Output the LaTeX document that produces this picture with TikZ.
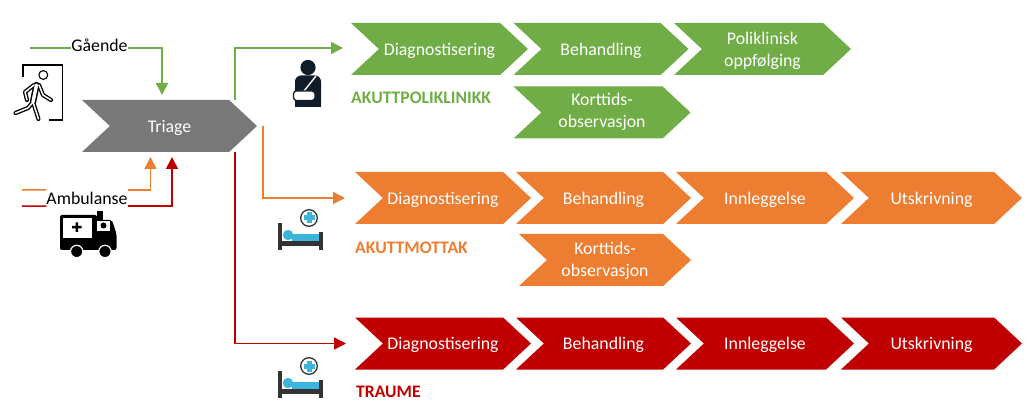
\documentclass[tikz,border=0pt]{standalone}
\usepackage{fontspec}
\setmainfont{Carlito}
\usetikzlibrary{shapes.symbols,arrows.meta,positioning}
\definecolor{akgreen}{HTML}{70AD47}
\definecolor{akorange}{HTML}{ED7D31}
\definecolor{akred}{HTML}{C00000}
\definecolor{akgray}{HTML}{787878}
\definecolor{akblue}{HTML}{3CB4DC}
\definecolor{akdark}{HTML}{333333}
\definecolor{aknavy}{HTML}{101C28}

\tikzset{
  chev/.style={signal,signal to=east,signal from=west,signal pointer angle=86,inner sep=0pt,outer sep=0pt,
    minimum height=52pt,minimum width=177pt,align=center,text=white,text depth=0pt,font=\fontsize{17.8}{22}\selectfont},
  ward/.style={anchor=west,inner sep=0pt,font=\fontsize{17.6}{20}\selectfont\bfseries},
  entry/.style={fill=white,inner sep=0pt,font=\fontsize{17.8}{20}\selectfont},
  flow/.style={line width=1.5pt,-{Triangle[length=12pt,width=12pt]}},
  bed/.pic={
    \fill[akblue] (14,11) rectangle (41,18);
    \fill[akblue] (10,12) circle (5.2);
    \fill[akdark] (0,0) rectangle (4,27);
    \fill[akdark] (41,9) rectangle (45,27);
    \fill[akdark] (4,18) rectangle (41,23);
    \draw[akdark,line width=1.3pt,fill=white] (31,-5) circle (8.3);
    \fill[akblue] (28.5,-10.5) rectangle (33.5,0.5);
    \fill[akblue] (25.5,-7.5) rectangle (36.5,-2.5);
  },
  limb/.style={black,line width=4.2pt,line cap=round,line join=round},
  limbcore/.style={white,line width=1.5pt,line cap=round,line join=round},
}

\begin{document}
\begin{tikzpicture}[x=1pt,y=-1pt]
  \useasboundingbox (0,0) rectangle (1032,411);

  \node[chev,fill=akgray,minimum width=175pt] (triage) at (169.5,126) {Triage};

  % akuttpoliklinikk
  \node[chev,fill=akgreen] (gdiag) at (439.5,49) {Diagnostisering};
  \node[chev,fill=akgreen,minimum width=175pt] (gbeh) at (601,49) {Behandling};
  \node[chev,fill=akgreen] (gpol) at (762.5,49) {Poliklinisk\\oppfølging};
  \node[chev,fill=akgreen,text depth=3.5pt] (gobs) at (602,112.5) {Korttids-\\observasjon};
  \node[ward,text=akgreen] (glabel) at (351,98) {AKUTTPOLIKLINIKK};

  % akuttmottak
  \node[chev,fill=akorange,minimum width=176pt] (odiag) at (443,198) {Diagnostisering};
  \node[chev,fill=akorange,minimum width=175pt] (obeh) at (603.5,198) {Behandling};
  \node[chev,fill=akorange,minimum width=178pt] (oinn) at (765,198) {Innleggelse};
  \node[chev,fill=akorange,minimum width=181pt] (outs) at (931.5,198) {Utskrivning};
  \node[chev,fill=akorange,minimum width=172pt,text depth=2pt] (oobs) at (605,260) {Korttids-\\observasjon};
  \node[ward,text=akorange] (olabel) at (355,248) {AKUTTMOTTAK};

  % traume
  \node[chev,fill=akred,minimum width=176pt] (rdiag) at (443,343.5) {Diagnostisering};
  \node[chev,fill=akred,minimum width=175pt] (rbeh) at (603.5,343.5) {Behandling};
  \node[chev,fill=akred,minimum width=178pt] (rinn) at (765,343.5) {Innleggelse};
  \node[chev,fill=akred,minimum width=181pt] (ruts) at (931.5,343.5) {Utskrivning};
  \node[ward,text=akred] (rlabel) at (356,392) {TRAUME};

  % inn til triage
  \node[entry,text depth=6pt] (gaaende) at (99.5,48) {Gående};
  \node[entry,minimum width=80pt,minimum height=16pt] (ambulanse) at (87,198) {Ambulanse};
  \coordinate (gstart) at (30,48);
  \coordinate (gend) at (162,95);
  \coordinate (ostart) at (22,190);
  \coordinate (rstart) at (22,206);
  \coordinate (oend) at (150.5,157);
  \coordinate (rend) at (172,157);

  \draw[akgreen,line width=1.5pt] (gstart) -- (gaaende);
  \draw[flow,akgreen] (gaaende) -| (gend);
  \draw[akorange,line width=1.5pt] (ostart) -- (ambulanse.north west);
  \draw[akred,line width=1.5pt] (rstart) -- (ambulanse.south west);
  \draw[flow,akorange] (ambulanse.north east) -| (oend);
  \draw[flow,akred] (ambulanse.south east) -| (rend);

  % ut fra triage
  \coordinate (gto) at (343,48);
  \coordinate (oto) at (345,198);
  \coordinate (rto) at (346,343.5);
  \draw[flow,akgreen] ([xshift=65.5pt]triage.north) |- (gto);
  \draw[flow,akorange] ([xshift=6pt]triage.east) |- (oto);
  \draw[flow,akred] ([xshift=65.5pt]triage.south) |- (rto);

  % dør og gående
  \draw[black,line width=1.2pt] (23,77) -- (23,65) -- (62.5,65) -- (62.5,120) -- (48.5,120);
  \draw[black,line width=1.1pt] (43.3,75) circle (4.4);
  \draw[limb] (34,85) -- (25,92) -- (27,100);
  \draw[limb] (39,85) -- (43,95) -- (51,100);
  \draw[limb,line width=6.4pt] (36.5,85) -- (33,102);
  \draw[limb] (33,102) -- (28,108) -- (15.5,113);
  \draw[limb] (33,102) -- (38.5,119);
  \draw[limbcore] (34,85) -- (25,92) -- (27,100);
  \draw[limbcore] (39,85) -- (43,95) -- (51,100);
  \draw[limbcore,line width=3.4pt] (36.5,85) -- (33,102);
  \draw[limbcore] (33,102) -- (28,108) -- (15.5,113);
  \draw[limbcore] (33,102) -- (38.5,119);

  % pasient med fatle
  \fill[aknavy] (308,67.5) circle (7.6);
  \fill[aknavy,rounded corners=6pt] (295,75.5) rectangle (321,112);
  \fill[white] (290,107) rectangle (326,114);
  \draw[white,line width=1.4pt] (316,76) -- (304,91);
  \draw[aknavy,line width=1.3pt,fill=white,rounded corners=3pt] (293.5,91) rectangle (315,100.5);

  % ambulanse
  \fill[black,rounded corners=2pt] (60,215) rectangle (97,247);
  \fill[black,rounded corners=2pt] (95,220) -- (112,220) -- (116.5,234) -- (116.5,250) -- (60,250) -- (60,240) -- (95,240) -- cycle;
  \fill[black] (96.5,211) rectangle (102.5,220);
  \fill[white] (63,218) rectangle (92,238);
  \fill[black] (75.5,222.5) rectangle (78,232) (72,226) rectangle (81.5,228.5);
  \fill[white] (96.5,221) rectangle (110,231);
  \fill[black] (103.5,225.5) circle (3);
  \draw[white,line width=1.2pt,fill=black] (76.7,251.5) circle (6.2);
  \draw[white,line width=1.2pt,fill=black] (105,251.5) circle (6.2);

  % senger
  \pic at (278,223) {bed};
  \pic at (278,371) {bed};
\end{tikzpicture}
\end{document}
